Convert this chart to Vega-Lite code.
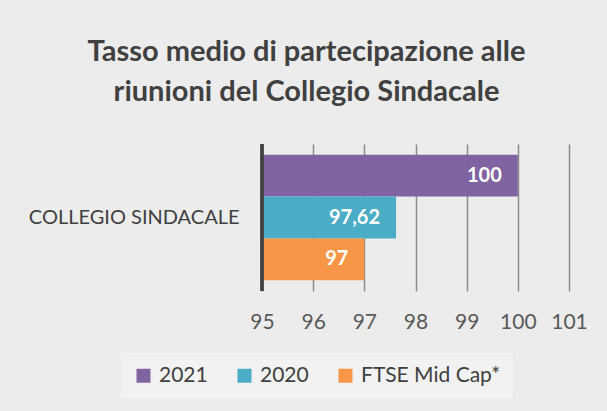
{
  "$schema": "https://vega.github.io/schema/vega-lite/v6.json",
  "width": 307,
  "height": 147,
  "autosize": "none",
  "padding": {"left": 262, "top": 144, "right": 38, "bottom": 120},
  "background": "#ececec",
  "config": {
    "font": "Lato",
    "view": {"stroke": null},
    "locale": {"number": {"decimal": ",", "thousands": ".", "grouping": [3], "currency": ["€", ""]}}
  },
  "title": {
    "text": ["Tasso medio di partecipazione alle", "riunioni del Collegio Sindacale"],
    "fontSize": 29,
    "fontWeight": "bold",
    "color": "#404040",
    "lineHeight": 40,
    "anchor": "middle",
    "dx": -109,
    "offset": 36
  },
  "data": {
    "values": [
      {"categoria": "COLLEGIO SINDACALE", "serie": "2021", "valore": 100},
      {"categoria": "COLLEGIO SINDACALE", "serie": "2020", "valore": 97.62},
      {"categoria": "COLLEGIO SINDACALE", "serie": "FTSE Mid Cap*", "valore": 97}
    ]
  },
  "encoding": {
    "y": {
      "field": "categoria",
      "type": "nominal",
      "scale": {"paddingInner": 0, "paddingOuter": 0.085},
      "axis": {
        "title": null,
        "ticks": false,
        "domain": false,
        "labelFontSize": 20,
        "labelColor": "#404040",
        "labelPadding": 23,
        "labelLimit": 300,
        "grid": false
      }
    },
    "yOffset": {
      "field": "serie",
      "type": "nominal",
      "sort": ["2021", "2020", "FTSE Mid Cap*"],
      "scale": {"paddingInner": 0, "paddingOuter": 0}
    },
    "x": {
      "field": "valore",
      "type": "quantitative",
      "scale": {"domain": [95, 101], "zero": false, "nice": false},
      "axis": {
        "title": null,
        "values": [95, 96, 97, 98, 99, 100, 101],
        "format": "d",
        "domain": false,
        "ticks": false,
        "grid": true,
        "gridColor": "#8c8c8c",
        "gridWidth": 1.5,
        "labelFontSize": 21,
        "labelColor": "#595959",
        "labelPadding": 20,
        "labelOverlap": false,
        "labelBound": false,
        "labelFlush": false
      }
    }
  },
  "layer": [
    {
      "mark": {"type": "bar", "clip": true},
      "encoding": {
        "x2": {"datum": 95},
        "color": {
          "field": "serie",
          "type": "nominal",
          "scale": {"domain": ["2021", "2020", "FTSE Mid Cap*"], "range": ["#8064A2", "#4BACC6", "#F79646"]},
          "legend": {
            "title": null,
            "orient": "none",
            "direction": "horizontal",
            "legendX": -141,
            "legendY": 209,
            "symbolType": "square",
            "symbolSize": 196,
            "symbolStrokeWidth": 0,
            "symbolOpacity": 1,
            "labelFontSize": 21,
            "labelColor": "#404040",
            "labelOffset": 5,
            "columnPadding": 26,
            "fillColor": "#f2f2f2",
            "padding": 12
          }
        }
      }
    },
    {
      "mark": {"type": "text", "align": "right", "dx": -16, "fontSize": 20, "fontWeight": "bold", "color": "white"},
      "encoding": {"text": {"field": "valore", "type": "quantitative", "format": ".2~f"}}
    },
    {
      "mark": {"type": "rule", "color": "#404040", "strokeWidth": 3},
      "encoding": {"x": {"datum": 95}, "y": {"value": 0}, "y2": {"value": 147}, "yOffset": null}
    }
  ]
}
